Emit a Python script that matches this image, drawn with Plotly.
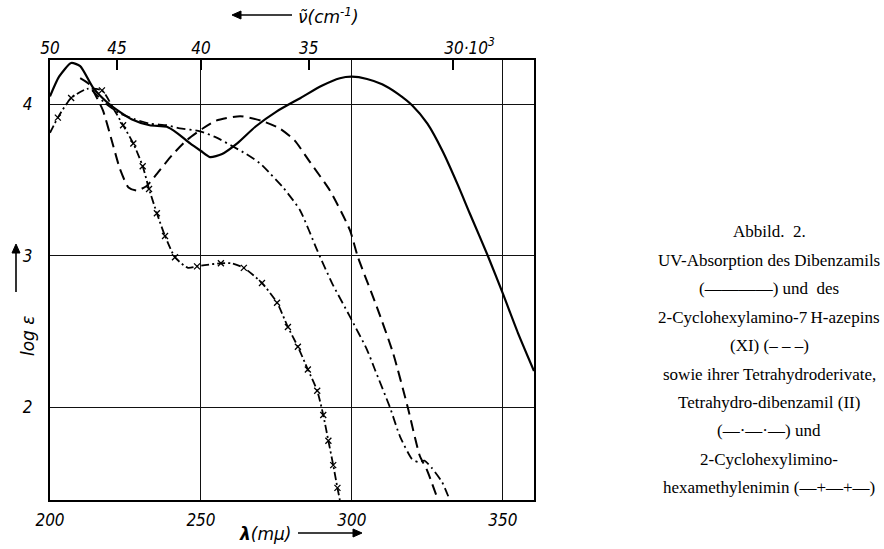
import plotly.graph_objects as go

# ---------------- data ----------------
# Dibenzamil (solid)
wl_dibenzamil = [200, 203, 207, 210, 214.2, 219, 223, 227, 233, 238.7, 242, 246.4, 250, 253, 257, 262, 268, 275, 283, 290, 296, 300, 305, 310, 315, 320, 325, 330, 335, 339, 345, 350, 355, 360.3]
log_dibenzamil = [4.05, 4.18, 4.27, 4.25, 4.11, 4.01, 3.95, 3.90, 3.86, 3.85, 3.81, 3.74, 3.69, 3.65, 3.67, 3.74, 3.85, 3.95, 4.04, 4.12, 4.17, 4.18, 4.165, 4.13, 4.07, 3.99, 3.87, 3.69, 3.47, 3.28, 3.00, 2.75, 2.49, 2.24]

# 2-Cyclohexylamino-7H-azepin (XI) (dashed)
wl_azepin = [210, 213, 215, 217.5, 221, 223.2, 226, 228.8, 232, 235.4, 240.3, 245.2, 250.7, 255, 263, 270, 276, 281, 286, 292.7, 299.3, 302, 308.3, 313.6, 318.5, 322.5, 324.8, 328.5]
log_azepin = [4.17, 4.13, 4.06, 3.96, 3.72, 3.57, 3.45, 3.43, 3.46, 3.54, 3.66, 3.76, 3.84, 3.89, 3.92, 3.89, 3.84, 3.76, 3.62, 3.43, 3.17, 2.99, 2.66, 2.36, 2.00, 1.68, 1.59, 1.39]

# Tetrahydro-dibenzamil (II) (dash-dot)
wl_tetra = [214, 218, 223, 228, 233, 238.7, 243, 249.7, 255, 260.6, 265, 269.5, 273, 277.2, 282.8, 288.4, 293.4, 299.3, 305, 307.6, 312.6, 315.9, 319.9, 322, 324, 326.5, 329.8, 332.4]
log_tetra = [4.09, 4.01, 3.94, 3.90, 3.87, 3.86, 3.84, 3.82, 3.78, 3.72, 3.67, 3.61, 3.54, 3.45, 3.30, 3.04, 2.82, 2.60, 2.38, 2.25, 2.00, 1.81, 1.66, 1.64, 1.65, 1.60, 1.51, 1.39]

# 2-Cyclohexylimino-hexamethylenimin (line with crosses)
wl_imin = [200, 202.6, 207, 212.3, 217.2, 221, 224.2, 227.6, 230.7, 232.8, 235.4, 238.1, 241.4, 245.7, 248.7, 252, 256.6, 260, 264.2, 270.2, 275.2, 278.8, 282.1, 285.4, 288.5, 290.5, 292.2, 293.8, 295.2, 296]
log_imin = [3.81, 3.91, 4.04, 4.10, 4.09, 3.97, 3.86, 3.74, 3.59, 3.44, 3.28, 3.13, 2.99, 2.92, 2.93, 2.94, 2.95, 2.95, 2.92, 2.82, 2.69, 2.53, 2.40, 2.25, 2.11, 1.95, 1.78, 1.62, 1.47, 1.39]
wl_imin_pts = [202.6, 207, 217.2, 224.2, 227.6, 230.7, 232.8, 235.4, 238.1, 241.4, 248.7, 256.6, 264.2, 270.2, 275.2, 278.8, 282.1, 285.4, 288.5, 290.5, 292.2, 293.8, 295.2]
log_imin_pts = [3.91, 4.04, 4.09, 3.86, 3.74, 3.59, 3.44, 3.28, 3.13, 2.99, 2.93, 2.95, 2.92, 2.82, 2.69, 2.53, 2.40, 2.25, 2.11, 1.95, 1.78, 1.62, 1.47]

# axes
x_range = [200, 360.3]
y_range = [1.39, 4.29]
wl_ticks = [200, 250, 300, 350]
log_ticks = [2, 3, 4]
wavenumber_ticks = [50, 45, 40, 35, 30]          # x 10^3 cm^-1
wavenumber_labels = ["50", "45", "40", "35", "&nbsp;&nbsp;&nbsp;&nbsp;&nbsp;&nbsp;&nbsp;30·10<sup>3</sup>"]

caption = [
    "Abbild.&nbsp; 2.",
    "UV-Absorption des Dibenzamils",
    "(————) und&nbsp; des",
    "2-Cyclohexylamino-7\u2009H-azepins",
    "(XI) (– – –)",
    "sowie ihrer Tetrahydroderivate,",
    "Tetrahydro-dibenzamil (II)",
    "(—·—·—) und",
    "2-Cyclohexylimino-",
    "hexamethylenimin (—+—+—)",
]

# ---------------- layout geometry ----------------
W, H = 884, 549
L, T, R, B = 50, 60, 534, 500
pw, ph = R - L, B - T

def px(xp):
    return (xp - L) / pw

def py(yp):
    return (B - yp) / ph

tick_font = dict(family="Liberation Sans Narrow, DejaVu Sans Condensed, Liberation Sans", size=17, color="black", style="italic")

fig = go.Figure()
fig.add_trace(go.Scatter(x=wl_tetra, y=log_tetra, mode="lines",
                         line=dict(color="black", width=1.8, dash="9px,4px,2px,4px", shape="spline", smoothing=0.6)))
fig.add_trace(go.Scatter(x=wl_azepin, y=log_azepin, mode="lines",
                         line=dict(color="black", width=2, dash="11px,6px", shape="spline", smoothing=0.6)))
fig.add_trace(go.Scatter(x=wl_imin, y=log_imin, mode="lines",
                         line=dict(color="black", width=1.8, dash="8px,3px,2px,3px", shape="spline", smoothing=0.6)))
fig.add_trace(go.Scatter(x=wl_imin_pts, y=log_imin_pts, mode="markers", xaxis="x2",
                         marker=dict(symbol="x-thin", size=6, line=dict(color="black", width=1.3))))
fig.add_trace(go.Scatter(x=wl_dibenzamil, y=log_dibenzamil, mode="lines",
                         line=dict(color="black", width=2.2, shape="spline", smoothing=0.6)))

wn_pos = [1e4 / v for v in wavenumber_ticks]

fig.update_layout(
    width=W, height=H,
    margin=dict(l=L, r=W - R, t=T, b=H - B),
    paper_bgcolor="white", plot_bgcolor="white",
    showlegend=False,
    xaxis=dict(range=x_range, tickvals=wl_ticks, ticks="", showgrid=True, gridcolor="#111", gridwidth=1.3,
               zeroline=False, showline=True, linecolor="black", linewidth=2, mirror=True,
               tickfont=tick_font, ticklabelstandoff=4),
    xaxis2=dict(range=x_range, overlaying="x", side="top", tickvals=wn_pos, ticktext=wavenumber_labels,
                ticks="inside", ticklen=10, tickwidth=1.5, tickcolor="black", showgrid=False, zeroline=False,
                showline=False, tickfont=tick_font, ticklabelstandoff=2),
    yaxis=dict(range=y_range, tickvals=log_ticks, ticks="", showgrid=True, gridcolor="#111", gridwidth=1.3,
               zeroline=False, showline=True, linecolor="black", linewidth=2, mirror=True,
               tickfont=tick_font, ticklabelstandoff=12),
)

# arrows drawn as shapes (shaft + filled head), pixel geometry converted to paper coords
def arrow_shapes(x0, y0, x1, y1, head=9, half=4):
    dx, dy = x1 - x0, y1 - y0
    n = (dx * dx + dy * dy) ** 0.5
    ux, uy = dx / n, dy / n
    bx, by = x1 - ux * head, y1 - uy * head
    pxx, pyy = -uy, ux
    p1 = (bx + pxx * half, by + pyy * half)
    p2 = (bx - pxx * half, by - pyy * half)
    path = "M {} {} L {} {} L {} {} Z".format(px(x1), py(y1), px(p1[0]), py(p1[1]), px(p2[0]), py(p2[1]))
    return [
        dict(type="line", xref="paper", yref="paper", x0=px(x0), y0=py(y0), x1=px(bx), y1=py(by),
             line=dict(color="black", width=1.6)),
        dict(type="path", xref="paper", yref="paper", path=path, fillcolor="black",
             line=dict(color="black", width=1)),
    ]

shapes = []
shapes += arrow_shapes(292, 15, 232, 15)     # top: pointing left
shapes += arrow_shapes(298, 533, 362, 533)   # bottom: pointing right
shapes += arrow_shapes(16, 292, 16, 244)     # left: pointing up

ann = []
ann.append(dict(x=px(296), y=py(16), xref="paper", yref="paper", xanchor="left", yanchor="middle",
                text="ν̃(cm<sup>-1</sup>)", showarrow=False,
                font=dict(family="DejaVu Sans", size=17, color="black", style="italic")))
ann.append(dict(x=px(293), y=py(534), xref="paper", yref="paper", xanchor="right", yanchor="middle",
                text="<b>λ</b>(mμ)", showarrow=False,
                font=dict(family="DejaVu Sans", size=17, color="black", style="italic")))
ann.append(dict(x=px(16), y=py(336), xref="paper", yref="paper", text="log ε", textangle=-90, showarrow=False,
                font=dict(family="DejaVu Sans", size=17, color="black", style="italic")))

# caption
cap_y0, cap_dy = 232, 28.4
for i, line in enumerate(caption):
    ann.append(dict(x=px(769), y=py(cap_y0 + i * cap_dy), xref="paper", yref="paper", text=line,
                    showarrow=False, xanchor="center", yanchor="middle",
                    font=dict(family="Liberation Serif", size=17, color="black")))

fig.update_layout(annotations=ann, shapes=shapes)
fig.write_html("out.html")
